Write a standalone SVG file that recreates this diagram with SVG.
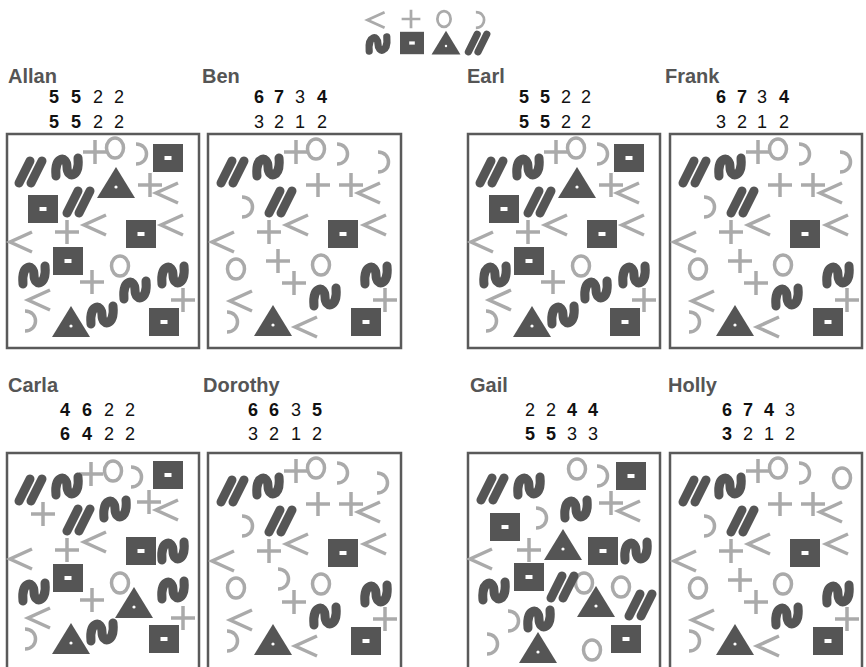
<svg xmlns="http://www.w3.org/2000/svg" width="866" height="667" viewBox="0 0 866 667">
<style>
.lab{font-family:"Liberation Sans",Arial,sans-serif;font-weight:bold;font-size:20px;fill:#555}
.num{font-family:"Liberation Sans",Arial,sans-serif;font-size:18px;fill:#111;text-anchor:middle}
.b{font-weight:bold}
.box{fill:#fff;stroke:#5a5a5a;stroke-width:2.5}
.d{fill:#555}
.dl{fill:none;stroke:#555;stroke-width:9;stroke-linecap:round;stroke-linejoin:round}
.l{fill:none;stroke:#aaa;stroke-width:3.5}
</style>
<defs>
<g id="sq"><rect class="d" x="-15" y="-14" width="30" height="28"/><rect x="-3.5" y="-2" width="7" height="4" fill="#fff"/></g>
<g id="tri"><polygon class="d" points="0,-16 19,15 -19,15"/><circle cx="0" cy="4" r="1.6" fill="#fff"/></g>
<g id="sl"><path class="dl" d="M-12,11 L-1,-11 M0,11 L11,-11" stroke-width="8.5"/></g>
<g id="s"><path class="dl" d="M-11,9 C-13,-11 0,-12 0,0 C0,12 13,11 11,-9"/></g>
<g id="lt"><path class="l" d="M11,-10 L-11,0 L11,10"/></g>
<g id="pl"><path class="l" d="M-12,0 H12 M0,-12 V12"/></g>
<g id="ci"><ellipse class="l" cx="0" cy="0" rx="8.5" ry="10"/></g>
<g id="rc"><path class="l" d="M-4,-10 C10,-10 10,10 -4,10"/></g>
<g id="layA">
<use href="#sl" x="24" y="38"/>
<use href="#s" x="60" y="33"/>
<use href="#pl" x="88" y="18"/>
<use href="#ci" x="108" y="14"/>
<use href="#rc" x="133" y="20"/>
<use href="#sq" x="161" y="24"/>
<use href="#tri" x="109" y="49"/>
<use href="#pl" x="143" y="51"/>
<use href="#lt" x="160" y="59"/>
<use href="#sq" x="36" y="75"/>
<use href="#sl" x="72" y="68"/>
<use href="#lt" x="88" y="91"/>
<use href="#lt" x="165" y="91"/>
<use href="#sq" x="134" y="100"/>
<use href="#pl" x="60" y="98"/>
<use href="#lt" x="14" y="108"/>
<use href="#sq" x="61" y="127"/>
<use href="#ci" x="113" y="132"/>
<use href="#s" x="27" y="141"/>
<use href="#pl" x="85" y="148"/>
<use href="#s" x="128" y="156"/>
<use href="#s" x="166" y="141"/>
<use href="#pl" x="176" y="166"/>
<use href="#lt" x="32" y="166"/>
<use href="#rc" x="22" y="187"/>
<use href="#tri" x="64" y="188"/>
<use href="#s" x="95" y="181"/>
<use href="#sq" x="157" y="188"/>
</g>
<g id="layB">
<use href="#sl" x="25" y="38"/>
<use href="#s" x="60" y="33"/>
<use href="#pl" x="88" y="18"/>
<use href="#ci" x="108" y="15"/>
<use href="#rc" x="133" y="20"/>
<use href="#pl" x="110" y="51"/>
<use href="#pl" x="143" y="51"/>
<use href="#lt" x="161" y="59"/>
<use href="#rc" x="38" y="73"/>
<use href="#sl" x="73" y="68"/>
<use href="#lt" x="89" y="91"/>
<use href="#lt" x="167" y="91"/>
<use href="#sq" x="135" y="100"/>
<use href="#pl" x="61" y="98"/>
<use href="#lt" x="15" y="108"/>
<use href="#ci" x="28" y="135"/>
<use href="#ci" x="113" y="131"/>
<use href="#pl" x="86" y="149"/>
<use href="#s" x="117" y="163"/>
<use href="#s" x="168" y="141"/>
<use href="#pl" x="177" y="166"/>
<use href="#lt" x="33" y="167"/>
<use href="#rc" x="23" y="188"/>
<use href="#tri" x="65" y="187"/>
<use href="#lt" x="98" y="193"/>
<use href="#sq" x="158" y="188"/>
</g>
</defs>

<g id="legend">
<use href="#lt" transform="translate(376,20) scale(.78)"/>
<use href="#pl" transform="translate(411,19) scale(.78)"/>
<use href="#ci" transform="translate(444,19) scale(.78)"/>
<use href="#rc" transform="translate(479,20) scale(.78)"/>
<use href="#s" transform="translate(378,44) scale(.8)"/>
<use href="#sq" transform="translate(412,43) scale(.8)"/>
<use href="#tri" transform="translate(446,43) scale(.76)"/>
<use href="#sl" transform="translate(478,43) scale(.8)"/>
</g>

<g id="allan">
<text class="lab" x="8" y="83">Allan</text>
<text class="num" y="103"><tspan class="b" x="54">5</tspan><tspan class="b" x="76">5</tspan><tspan x="98">2</tspan><tspan x="119">2</tspan></text>
<text class="num" y="128"><tspan class="b" x="54">5</tspan><tspan class="b" x="76">5</tspan><tspan x="98">2</tspan><tspan x="119">2</tspan></text>
<rect class="box" x="7" y="134" width="192" height="214"/>
<use href="#layA" transform="translate(7,134)"/>
</g>

<g id="ben">
<text class="lab" x="202" y="83">Ben</text>
<text class="num" y="103"><tspan class="b" x="259">6</tspan><tspan class="b" x="279">7</tspan><tspan x="300">3</tspan><tspan class="b" x="322">4</tspan></text>
<text class="num" y="128"><tspan x="259">3</tspan><tspan x="279">2</tspan><tspan x="300">1</tspan><tspan x="322">2</tspan></text>
<rect class="box" x="208" y="134" width="193" height="214"/>
<g transform="translate(208,134)">
<use href="#layB"/>
<use href="#rc" x="174" y="28"/>
<use href="#pl" x="70" y="127"/>
</g>
</g>

<g id="earl">
<text class="lab" x="467" y="83">Earl</text>
<text class="num" y="103"><tspan class="b" x="524">5</tspan><tspan class="b" x="545">5</tspan><tspan x="566">2</tspan><tspan x="586">2</tspan></text>
<text class="num" y="128"><tspan class="b" x="524">5</tspan><tspan class="b" x="545">5</tspan><tspan x="566">2</tspan><tspan x="586">2</tspan></text>
<rect class="box" x="468" y="134" width="192" height="214"/>
<use href="#layA" transform="translate(468,134)"/>
</g>

<g id="frank">
<text class="lab" x="665" y="83">Frank</text>
<text class="num" y="103"><tspan class="b" x="721">6</tspan><tspan class="b" x="742">7</tspan><tspan x="762">3</tspan><tspan class="b" x="784">4</tspan></text>
<text class="num" y="128"><tspan x="721">3</tspan><tspan x="742">2</tspan><tspan x="762">1</tspan><tspan x="784">2</tspan></text>
<rect class="box" x="670" y="134" width="192" height="214"/>
<g transform="translate(670,134)">
<use href="#layB"/>
<use href="#rc" x="174" y="28"/>
<use href="#pl" x="70" y="127"/>
</g>
</g>

<g id="carla">
<text class="lab" x="8" y="392">Carla</text>
<text class="num" y="416"><tspan class="b" x="65">4</tspan><tspan class="b" x="87">6</tspan><tspan x="109">2</tspan><tspan x="130">2</tspan></text>
<text class="num" y="440"><tspan class="b" x="65">6</tspan><tspan class="b" x="87">4</tspan><tspan x="109">2</tspan><tspan x="130">2</tspan></text>
<rect class="box" x="7" y="453" width="192" height="220"/>
<g transform="translate(7,453)">
<use href="#pl" x="84" y="21"/>
<use href="#ci" x="106" y="18"/>
<use href="#rc" x="128" y="24"/>
<use href="#sq" x="161" y="22"/>
<use href="#sl" x="24" y="37"/>
<use href="#s" x="60" y="33"/>
<use href="#pl" x="36" y="61"/>
<use href="#sl" x="72" y="67"/>
<use href="#s" x="108" y="56"/>
<use href="#pl" x="142" y="49"/>
<use href="#lt" x="160" y="57"/>
<use href="#lt" x="88" y="89"/>
<use href="#pl" x="60" y="97"/>
<use href="#sq" x="134" y="98"/>
<use href="#s" x="166" y="98"/>
<use href="#lt" x="14" y="106"/>
<use href="#sq" x="61" y="125"/>
<use href="#ci" x="113" y="130"/>
<use href="#s" x="27" y="139"/>
<use href="#pl" x="85" y="147"/>
<use href="#tri" x="127" y="150"/>
<use href="#s" x="166" y="137"/>
<use href="#pl" x="176" y="165"/>
<use href="#lt" x="32" y="165"/>
<use href="#rc" x="22" y="186"/>
<use href="#tri" x="64" y="186"/>
<use href="#s" x="95" y="179"/>
<use href="#sq" x="157" y="186"/>
</g>
</g>

<g id="dorothy">
<text class="lab" x="203" y="392">Dorothy</text>
<text class="num" y="416"><tspan class="b" x="253">6</tspan><tspan class="b" x="274">6</tspan><tspan x="296">3</tspan><tspan class="b" x="317">5</tspan></text>
<text class="num" y="440"><tspan x="253">3</tspan><tspan x="274">2</tspan><tspan x="296">1</tspan><tspan x="317">2</tspan></text>
<rect class="box" x="208" y="453" width="193" height="220"/>
<g transform="translate(208,453)">
<use href="#layB"/>
<use href="#rc" x="173" y="30"/>
<use href="#rc" x="74" y="126"/>
</g>
</g>

<g id="gail">
<text class="lab" x="470" y="392">Gail</text>
<text class="num" y="416"><tspan x="530">2</tspan><tspan x="551">2</tspan><tspan class="b" x="572">4</tspan><tspan class="b" x="593">4</tspan></text>
<text class="num" y="440"><tspan class="b" x="530">5</tspan><tspan class="b" x="551">5</tspan><tspan x="572">3</tspan><tspan x="593">3</tspan></text>
<rect class="box" x="468" y="453" width="192" height="220"/>
<g transform="translate(468,453)">
<use href="#ci" x="109" y="16"/>
<use href="#rc" x="133" y="23"/>
<use href="#sq" x="163" y="23"/>
<use href="#sl" x="25" y="36"/>
<use href="#s" x="61" y="33"/>
<use href="#s" x="108" y="56"/>
<use href="#pl" x="143" y="50"/>
<use href="#lt" x="161" y="58"/>
<use href="#sq" x="37" y="74"/>
<use href="#rc" x="72" y="65"/>
<use href="#tri" x="95" y="92"/>
<use href="#pl" x="61" y="97"/>
<use href="#sq" x="135" y="98"/>
<use href="#s" x="168" y="98"/>
<use href="#lt" x="13" y="106"/>
<use href="#sq" x="61" y="124"/>
<use href="#ci" x="116" y="130"/>
<use href="#sl" x="95" y="134"/>
<use href="#ci" x="153" y="134"/>
<use href="#sl" x="173" y="152"/>
<use href="#s" x="26" y="138"/>
<use href="#tri" x="128" y="149"/>
<use href="#rc" x="44" y="168"/>
<use href="#s" x="71" y="166"/>
<use href="#rc" x="23" y="191"/>
<use href="#tri" x="70" y="195"/>
<use href="#ci" x="124" y="197"/>
<use href="#sq" x="158" y="186"/>
</g>
</g>

<g id="holly">
<text class="lab" x="668" y="392">Holly</text>
<text class="num" y="416"><tspan class="b" x="727">6</tspan><tspan class="b" x="748">7</tspan><tspan class="b" x="769">4</tspan><tspan x="790">3</tspan></text>
<text class="num" y="440"><tspan class="b" x="727">3</tspan><tspan x="748">2</tspan><tspan x="769">1</tspan><tspan x="790">2</tspan></text>
<rect class="box" x="670" y="453" width="192" height="220"/>
<g transform="translate(670,453)">
<use href="#layB"/>
<use href="#ci" x="172" y="25"/>
<use href="#pl" x="70" y="127"/>
</g>
</g>
</svg>
